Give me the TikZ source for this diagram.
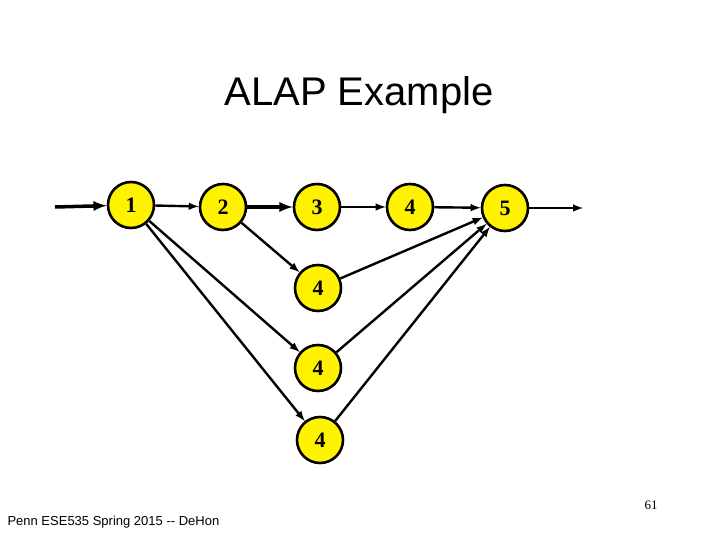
\documentclass[tikz,border=0pt]{standalone}
\usepackage{fontspec}
\setmainfont{Liberation Serif}
\newfontfamily\arial{Liberation Sans}
\begin{document}
\begin{tikzpicture}[x=1pt,y=-1pt,
  op/.style={circle,draw=black,line width=2.6pt,fill=yellow,minimum size=46pt,inner sep=0pt,font=\fontsize{22}{22}\selectfont\bfseries},
  e/.style={-latex,line width=2.4pt}]
\useasboundingbox (0,0) rectangle (720,540);
\node[font=\arial\fontsize{40}{40}\selectfont] (t) at (359,95) {ALAP Example};
\node[op] (n1) at (131,205) {1};
\node[op] (n2) at (223,207) {2};
\node[op] (n3) at (317,207) {3};
\node[op] (n4) at (410,207) {4};
\node[op] (n5) at (505,208) {5};
\node[op] (a) at (318,288) {4};
\node[op] (b) at (318,368) {4};
\node[op] (c) at (320,440) {4};
\coordinate (in) at (55,207);
\coordinate (out) at (583,208);
\draw[e,line width=3.5pt] (in) -- (n1);
\draw[e] (n1) -- (n2);
\draw[e,line width=3.5pt] (n2) -- (n3);
\draw[e] (n3) -- (n4);
\draw[e] (n4) -- (n5);
\draw[e] (n5) -- (out);
\draw[e] (n2) -- (a);
\draw[e] (n1) -- (b);
\draw[e] (n1) -- (c);
\draw[e] (a) -- (n5);
\draw[e] (b) -- (n5);
\draw[e] (c) -- (n5);
\node[font=\fontsize{13}{13}\selectfont] (p) at (651,505) {61};
\node[font=\arial\fontsize{13}{13}\selectfont,anchor=west] (f) at (4,522) {Penn ESE535 Spring 2015 -- DeHon};
\end{tikzpicture}
\end{document}
